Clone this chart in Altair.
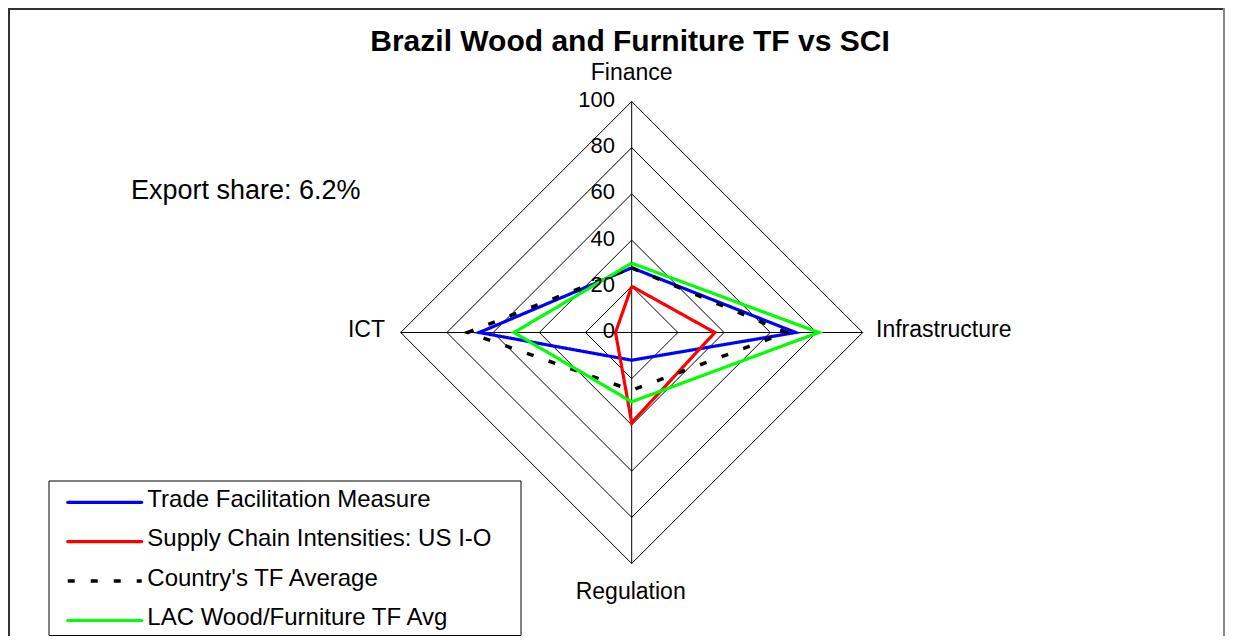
import altair as alt
import pandas as pd

# ---------------- data ----------------
axis_names = ["Finance", "Infrastructure", "Regulation", "ICT"]
ring_levels = [20, 40, 60, 80, 100]
tick_values = [0, 20, 40, 60, 80, 100]
tick_labels = ["0", "20", "40", "60", "80", "100"]

series_names = [
    "Trade Facilitation Measure",
    "Supply Chain Intensities: US I-O",
    "Country's TF Average",
    "LAC Wood/Furniture TF Avg",
]
tf_measure = [28, 71, 12, 66]
sci_us_io = [20, 36, 39, 7]
country_avg = [28, 67, 25, 71]
lac_avg = [30, 81, 30, 51]

title_text = "Brazil Wood and Furniture TF vs SCI"
note_text = "Export share: 6.2%"

# ---------------- geometry / style ----------------
W, H = 1217, 628
CX, CY, K = 623.7, 324.5, 2.31          # radar centre (px) and px per unit
FONT = "Liberation Sans"
directions = [(0, 1), (1, 0), (0, -1), (-1, 0)]

series_values = [tf_measure, sci_us_io, country_avg, lac_avg]
series_colors = ["#0000FF", "#FF0000", "#000000", "#00FF00"]
series_dash = [[1, 0], [1, 0], [7, 16], [1, 0]]
series_width = [3.2, 3.2, 3.5, 3.2]

xs = alt.Scale(domain=[-CX / K, (W - CX) / K], nice=False, zero=False)
ys = alt.Scale(domain=[-(H - CY) / K, CY / K], nice=False, zero=False)
X = lambda f: alt.X(f, type="quantitative", scale=xs, axis=None)
Y = lambda f: alt.Y(f, type="quantitative", scale=ys, axis=None)

layers = []

# frame
frame = pd.DataFrame({"a": [0]})
layers.append(alt.Chart(frame).mark_rule(color="#333333", strokeWidth=2).encode(
    x=alt.value(0), x2=alt.value(W), y=alt.value(1)))
layers.append(alt.Chart(frame).mark_rule(color="#333333", strokeWidth=2).encode(
    x=alt.value(1), y=alt.value(0), y2=alt.value(H)))
layers.append(alt.Chart(frame).mark_rule(color="#888888", strokeWidth=2).encode(
    x=alt.value(W - 1), y=alt.value(0), y2=alt.value(H)))

# grid rings
ring_rows = []
for r in ring_levels:
    for i in range(5):
        dx, dy = directions[i % 4]
        ring_rows.append({"ring": r, "idx": i, "x": dx * r, "y": dy * r})
rings = pd.DataFrame(ring_rows)
layers.append(alt.Chart(rings).mark_line(color="black", strokeWidth=1).encode(
    x=X("x"), y=Y("y"), detail="ring:N", order="idx:Q"))

# spokes
spokes = pd.DataFrame([{"x": 0, "y": 0, "x2": dx * ring_levels[-1], "y2": dy * ring_levels[-1]}
                       for dx, dy in directions])
layers.append(alt.Chart(spokes).mark_rule(color="black", strokeWidth=1).encode(
    x=X("x"), y=Y("y"), x2="x2:Q", y2="y2:Q"))

# series polygons
for name, vals, col, dash, sw in zip(series_names, series_values, series_colors,
                                     series_dash, series_width):
    rows = []
    for i in range(5):
        dx, dy = directions[i % 4]
        v = vals[i % 4]
        rows.append({"series": name, "idx": i, "x": dx * v, "y": dy * v})
    layers.append(alt.Chart(pd.DataFrame(rows)).mark_line(
        color=col, strokeWidth=sw, strokeDash=dash, strokeJoin="miter").encode(
        x=X("x"), y=Y("y"), order="idx:Q"))

# tick labels
ticks = pd.DataFrame({"v": tick_values, "label": tick_labels, "x": [0] * len(tick_values)})
layers.append(alt.Chart(ticks).mark_text(
    align="right", baseline="alphabetic", dx=-16.7, dy=5.5, fontSize=22, font=FONT,
    color="black").encode(x=X("x"), y=Y("v"), text="label:N"))

# axis category labels
label_style = {
    "Finance": dict(align="center", dx=0, dy=-22),
    "Infrastructure": dict(align="left", dx=13.3, dy=4.8),
    "Regulation": dict(align="center", dx=-1, dy=35.8),
    "ICT": dict(align="right", dx=-15.7, dy=4.8),
}
for name, (dx, dy) in zip(axis_names, directions):
    st = label_style[name]
    df = pd.DataFrame({"name": [name], "x": [dx * ring_levels[-1]], "y": [dy * ring_levels[-1]]})
    layers.append(alt.Chart(df).mark_text(
        align=st["align"], baseline="alphabetic", dx=st["dx"], dy=st["dy"],
        fontSize=23, font=FONT, color="black").encode(
        x=X("x"), y=Y("y"), text="name:N"))

# title and note
layers.append(alt.Chart(pd.DataFrame({"t": [title_text]})).mark_text(
    align="center", baseline="alphabetic", fontSize=30, fontWeight="bold", font=FONT,
    color="black").encode(x=alt.value(622), y=alt.value(43), text="t:N"))
layers.append(alt.Chart(pd.DataFrame({"t": [note_text]})).mark_text(
    align="left", baseline="alphabetic", fontSize=27, font=FONT,
    color="black").encode(x=alt.value(123), y=alt.value(191.3), text="t:N"))

# legend
LX1, LX2, LY1 = 41, 513, 473
layers.append(alt.Chart(frame).mark_rect(fill="white", stroke="black", strokeWidth=1).encode(
    x=alt.value(LX1), x2=alt.value(LX2), y=alt.value(LY1), y2=alt.value(H - 0.5)))
ROW0, ROWGAP = 494.3, 39.4
for i, (name, col, dash, sw) in enumerate(zip(series_names, series_colors, series_dash, series_width)):
    ry = ROW0 + i * ROWGAP
    one = pd.DataFrame({"t": [name]})
    layers.append(alt.Chart(one).mark_rule(
        color=col, strokeWidth=sw, strokeDash=dash, strokeCap="round" if dash[1] == 0 else "butt").encode(
        x=alt.value(59.7), x2=alt.value(133.7), y=alt.value(ry)))
    layers.append(alt.Chart(one).mark_text(
        align="left", baseline="alphabetic", fontSize=24, font=FONT, color="black").encode(
        x=alt.value(139.3), y=alt.value(ry + 4.5), text="t:N"))

chart = alt.layer(*layers).properties(
    width=W, height=H, padding=0,
    autosize=alt.AutoSizeParams(type="none"),
    background="white",
).configure_view(stroke=None)

chart.save("out.html", embed_options={"renderer": "svg", "actions": False})
